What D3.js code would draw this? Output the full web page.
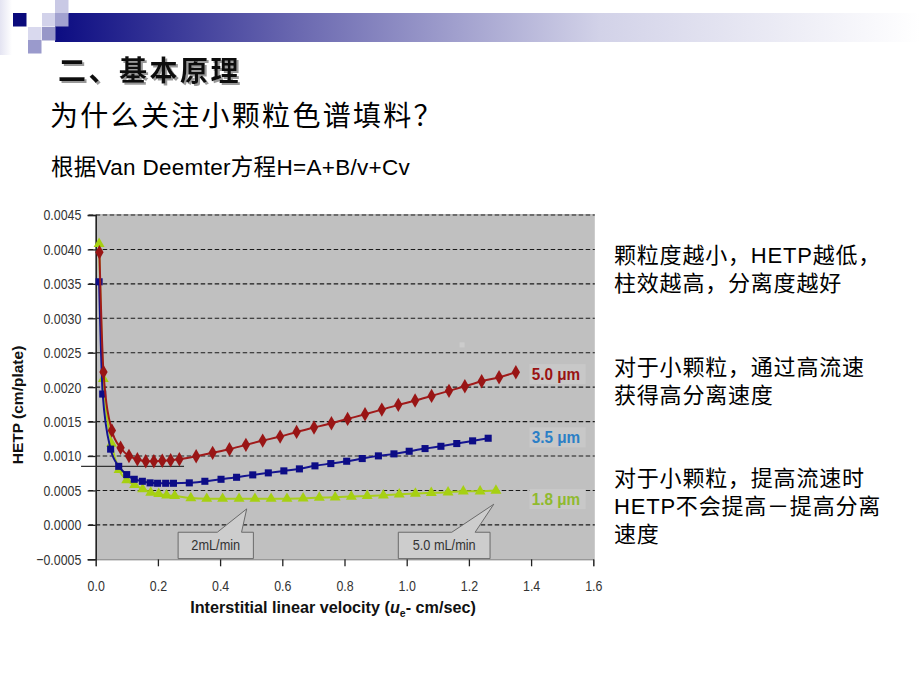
<!DOCTYPE html>
<html>
<head>
<meta charset="utf-8">
<script src="https://cdn.jsdelivr.net/npm/d3@7"></script>
<style>
  html, body { margin: 0; padding: 0; background: #ffffff; }
  svg { display: block; }
  .cjk { font-family: "Noto Sans CJK SC", "Noto Sans", sans-serif; }
  .mixed { font-family: "Liberation Sans", Arial, "Noto Sans CJK SC", sans-serif; }
  .lib { font-family: "Liberation Sans", Arial, sans-serif; }
</style>
</head>
<body>
<svg id="chart" width="920" height="690"></svg>
<script>
// ---------------- data ----------------
const seriesNames = ["5.0 μm", "3.5 μm", "1.8 μm"];

const velocity50 = [0.012, 0.025, 0.052, 0.080, 0.107, 0.134, 0.161, 0.187, 0.214, 0.241, 0.269, 0.323, 0.376, 0.430, 0.483, 0.537, 0.593, 0.646, 0.702, 0.758, 0.810, 0.866, 0.920, 0.973, 1.027, 1.080, 1.136, 1.187, 1.241, 1.297, 1.351];
const hetp50 = [0.00396, 0.00222, 0.00137, 0.00112, 0.00100, 0.000953, 0.000924, 0.000924, 0.00093, 0.000938, 0.000953, 0.000996, 0.001046, 0.001098, 0.001162, 0.001224, 0.001282, 0.00135, 0.001413, 0.001476, 0.001539, 0.001606, 0.001674, 0.001743, 0.001805, 0.001873, 0.001946, 0.002013, 0.002085, 0.002143, 0.002216];

const velocity35 = [0.011, 0.0225, 0.048, 0.074, 0.0997, 0.124, 0.150, 0.175, 0.199, 0.225, 0.250, 0.301, 0.351, 0.403, 0.453, 0.505, 0.555, 0.605, 0.655, 0.705, 0.756, 0.807, 0.857, 0.909, 0.959, 1.008, 1.059, 1.110, 1.161, 1.212, 1.262];
const hetp35 = [0.00353, 0.0019, 0.0011, 0.00085, 0.00073, 0.000662, 0.000633, 0.00061, 0.000604, 0.000604, 0.000604, 0.00061, 0.000633, 0.000662, 0.000691, 0.000726, 0.000755, 0.000784, 0.000813, 0.000857, 0.00089, 0.000924, 0.000963, 0.001002, 0.001031, 0.001069, 0.001108, 0.001141, 0.001181, 0.00122, 0.001258];

const velocity18 = [0.011, 0.0245, 0.051, 0.075, 0.0997, 0.125, 0.151, 0.177, 0.2026, 0.228, 0.254, 0.306, 0.357, 0.408, 0.461, 0.512, 0.564, 0.615, 0.667, 0.719, 0.770, 0.822, 0.873, 0.925, 0.976, 1.028, 1.079, 1.133, 1.182, 1.236, 1.287];
const hetp18 = [0.00408, 0.00212, 0.00118, 0.0008, 0.00065, 0.00058, 0.00052, 0.00047, 0.00045, 0.00043, 0.00042, 0.00039, 0.00038, 0.00038, 0.00038, 0.00038, 0.00038, 0.00038, 0.000385, 0.000396, 0.0004, 0.000411, 0.000421, 0.00043, 0.000444, 0.000455, 0.000465, 0.000473, 0.000488, 0.000488, 0.000498];

const yTicks = [-0.0005, 0.0000, 0.0005, 0.0010, 0.0015, 0.0020, 0.0025, 0.0030, 0.0035, 0.0040, 0.0045];
const xTicks = [0.0, 0.2, 0.4, 0.6, 0.8, 1.0, 1.2, 1.4, 1.6];

const flowLabels = ["2mL/min", "5.0 mL/min"];
const flowTargets = [0.4855, 1.28];           // velocity the callout points at

const titleText = "二、基本原理";
const subtitleText = "为什么关注小颗粒色谱填料？";
const equationText = "根据Van Deemter方程H=A+B/v+Cv";
const noteLines = [
  ["颗粒度越小，HETP越低，", "柱效越高，分离度越好"],
  ["对于小颗粒，通过高流速", "获得高分离速度"],
  ["对于小颗粒，提高流速时", "HETP不会提高－提高分离", "速度"]
];

// ---------------- drawing ----------------
const svg = d3.select("#chart");
const defs = svg.append("defs");

const shadow = defs.append("filter").attr("id", "shadow").attr("x", "-5%").attr("y", "-20%").attr("width", "115%").attr("height", "150%");
shadow.append("feDropShadow").attr("dx", 2).attr("dy", 2).attr("stdDeviation", 0.6)
  .attr("flood-color", "#808080").attr("flood-opacity", 0.8);

// header band
const grad = defs.append("linearGradient").attr("id", "band").attr("x1", 0).attr("x2", 1).attr("y1", 0).attr("y2", 0);
grad.append("stop").attr("offset", 0).attr("stop-color", "#0c0c82");
grad.append("stop").attr("offset", 0.28).attr("stop-color", "#6a68b0");
grad.append("stop").attr("offset", 0.63).attr("stop-color", "#d2d2e8");
grad.append("stop").attr("offset", 1).attr("stop-color", "#ffffff");
svg.append("rect").attr("x", 55).attr("y", 13).attr("width", 865).attr("height", 29).attr("fill", "url(#band)");

const lgrad = defs.append("linearGradient").attr("id", "leftfade").attr("x1", 0).attr("x2", 1).attr("y1", 0).attr("y2", 0);
lgrad.append("stop").attr("offset", 0).attr("stop-color", "#e4e4f2");
lgrad.append("stop").attr("offset", 1).attr("stop-color", "#ffffff");
svg.append("rect").attr("x", 0).attr("y", 0).attr("width", 12).attr("height", 55).attr("fill", "url(#leftfade)");

const squares = [
  [13, 13, "#0a0a7c"], [55, 0, "#c9c9e5"], [42, 13, "#d2d2ea"], [55, 13, "#a2a2d0"],
  [28, 27, "#d9d9ee"], [42, 27, "#9797c8"], [28, 40, "#9a9acc"]
];
svg.selectAll("rect.sq").data(squares).join("rect").attr("class", "sq")
  .attr("x", d => d[0]).attr("y", d => d[1]).attr("width", 13.5).attr("height", 13.5).attr("fill", d => d[2]);

// titles
svg.append("text").attr("class", "cjk").attr("x", 58).attr("y", 81)
  .attr("font-size", 28).attr("font-weight", 700).attr("letter-spacing", 2.5)
  .attr("fill", "#111").attr("filter", "url(#shadow)").text(titleText);
svg.append("text").attr("class", "cjk").attr("x", 50).attr("y", 126)
  .attr("font-size", 28).attr("font-weight", 400).attr("letter-spacing", 2.3).attr("fill", "#000").text(subtitleText);
svg.append("text").attr("class", "mixed").attr("x", 51).attr("y", 175)
  .attr("font-size", 22.5).attr("letter-spacing", 0.3).attr("fill", "#000").text(equationText);

// notes on the right
const noteTop = [263, 375, 486];
noteLines.forEach((lines, i) => {
  lines.forEach((ln, j) => {
    svg.append("text").attr("class", "mixed").attr("x", 614).attr("y", noteTop[i] + j * 28)
      .attr("font-size", 22).attr("letter-spacing", 0.8).attr("fill", "#000").text(ln);
  });
});

// chart
const x = d3.scaleLinear().domain([0, 1.6]).range([95.7, 593.3]);
const y = d3.scaleLinear().domain([-0.0005, 0.0045]).range([559.3, 215]);

svg.append("rect").attr("x", x(0)).attr("y", y(0.0045) - 1)
  .attr("width", x(1.6) - x(0) + 1.5).attr("height", y(-0.0005) - y(0.0045) + 1)
  .attr("fill", "#c0c0c0");
// tiny artifact square in the plot
svg.append("rect").attr("x", x(1.17)).attr("y", y(0.00265)).attr("width", 5).attr("height", 5).attr("fill", "#cccccc");

// grid lines
svg.append("g").selectAll("line").data(yTicks.filter(t => t > -0.0005)).join("line")
  .attr("x1", x(0) - 7).attr("x2", x(1.6) + 1.5)
  .attr("y1", d => y(d)).attr("y2", d => y(d))
  .attr("stroke", "#1a1a1a").attr("stroke-width", 1.1).attr("stroke-dasharray", "4.5,2.5");

// y axis
const yAxis = d3.axisLeft(y).tickValues(yTicks).tickFormat(d3.format(".4f")).tickSize(8).tickPadding(10);
const gy = svg.append("g").attr("transform", `translate(${x(0)},0)`).call(yAxis);
gy.select(".domain").attr("stroke", "#222").attr("stroke-width", 1.6);
gy.selectAll(".tick line").attr("stroke", "#222").attr("stroke-width", 1.3);
gy.selectAll(".tick text").attr("class", "lib").attr("font-size", 15.5).attr("fill", "#333")
  .attr("transform", "scale(0.8,1)");

// x axis
const xAxis = d3.axisBottom(x).tickValues(xTicks).tickFormat(d3.format(".1f")).tickSize(7).tickPadding(14);
const gx = svg.append("g").attr("transform", `translate(0,${y(-0.0005)})`).call(xAxis);
gx.select(".domain").attr("stroke", "#555").attr("stroke-width", 0.8);
gx.selectAll(".tick line").attr("stroke", "#222").attr("stroke-width", 1.3);
gx.selectAll(".tick text").attr("class", "lib").attr("font-size", 15.5).attr("fill", "#333")
  .attr("transform", "scale(0.8,1)");

// axis titles
svg.append("text").attr("transform", `translate(23,405) rotate(-90)`)
  .attr("text-anchor", "middle").attr("class", "lib")
  .attr("font-weight", 700).attr("font-size", 15.5).attr("fill", "#111").text("HETP (cm/plate)");

const xt = svg.append("text").attr("x", 333).attr("y", 613)
  .attr("text-anchor", "middle").attr("class", "lib")
  .attr("font-weight", 700).attr("font-size", 16.2).attr("fill", "#111");
xt.append("tspan").text("Interstitial linear velocity (");
xt.append("tspan").attr("font-style", "italic").text("u");
xt.append("tspan").attr("font-size", 10.5).attr("dy", 4).text("e");
xt.append("tspan").attr("dy", -4).text("- cm/sec)");

// reference line
svg.append("line").attr("x1", x(-0.047)).attr("x2", x(0.284)).attr("y1", y(0.00085)).attr("y2", y(0.00085))
  .attr("stroke", "#333").attr("stroke-width", 1.2);

// callouts
const calloutBoxes = [
  { x0: 0.265, x1: 0.507, b0: 0.391, b1: 0.469 },
  { x0: 0.973, x1: 1.268, b0: 1.145, b1: 1.220 }
];
const boxTop = -0.000107, boxBottom = -0.00049, tipH = [0.000232, 0.000300];
calloutBoxes.forEach((b, i) => {
  const p = d3.path();
  p.moveTo(x(b.x0), y(boxTop));
  p.lineTo(x(b.b0), y(boxTop));
  p.lineTo(x(flowTargets[i]), y(tipH[i]));
  p.lineTo(x(b.b1), y(boxTop));
  p.lineTo(x(b.x1), y(boxTop));
  p.lineTo(x(b.x1), y(boxBottom));
  p.lineTo(x(b.x0), y(boxBottom));
  p.closePath();
  svg.append("path").attr("d", p.toString()).attr("fill", "#cdcdcd").attr("stroke", "#6a6a6a").attr("stroke-width", 1);
  const cx = (x(b.x0) + x(b.x1)) / 2, cy = (y(boxTop) + y(boxBottom)) / 2 + 5;
  svg.append("text").attr("class", "lib").attr("transform", `translate(${cx},${cy}) scale(0.85,1)`)
    .attr("text-anchor", "middle").attr("font-size", 15).attr("fill", "#333").text(flowLabels[i]);
});

// series
const series = [
  { name: seriesNames[2], v: velocity18, h: hetp18, line: "#a9cf1c", fill: "#a6d012", sym: d3.symbolTriangle, size: 52, labelColor: "#8fba2e", labelH: 0.000375 },
  { name: seriesNames[1], v: velocity35, h: hetp35, line: "#141490", fill: "#0c0c86", sym: d3.symbolSquare, size: 50, labelColor: "#2b7fc6", labelH: 0.00127 },
  { name: seriesNames[0], v: velocity50, h: hetp50, line: "#a01a1a", fill: "#991515", sym: d3.symbolDiamond, size: 60, labelColor: "#9a1212", labelH: 0.00219 }
];
const lineGen = d3.line().x(d => x(d[0])).y(d => y(d[1])).curve(d3.curveMonotoneX);

series.forEach(s => {
  const pts = s.v.map((v, i) => [v, s.h[i]]);
  svg.append("path").attr("d", lineGen(pts)).attr("fill", "none").attr("stroke", s.line).attr("stroke-width", 2);
  svg.append("g").selectAll("path").data(pts).join("path")
    .attr("transform", d => `translate(${x(d[0])},${y(d[1])})`)
    .attr("d", d3.symbol().type(s.sym).size(s.size)).attr("fill", s.fill);
});

// series labels
series.forEach(s => {
  const ty = y(s.labelH);
  svg.append("rect").attr("x", x(1.395)).attr("y", ty - 10).attr("width", 56).attr("height", 20).attr("fill", "#c8c8c8");
  svg.append("text").attr("class", "lib").attr("transform", `translate(${x(1.402)},${ty + 6}) scale(0.9,1)`)
    .attr("font-size", 17).attr("font-weight", 700).attr("fill", s.labelColor).text(s.name);
});
</script>
</body>
</html>
